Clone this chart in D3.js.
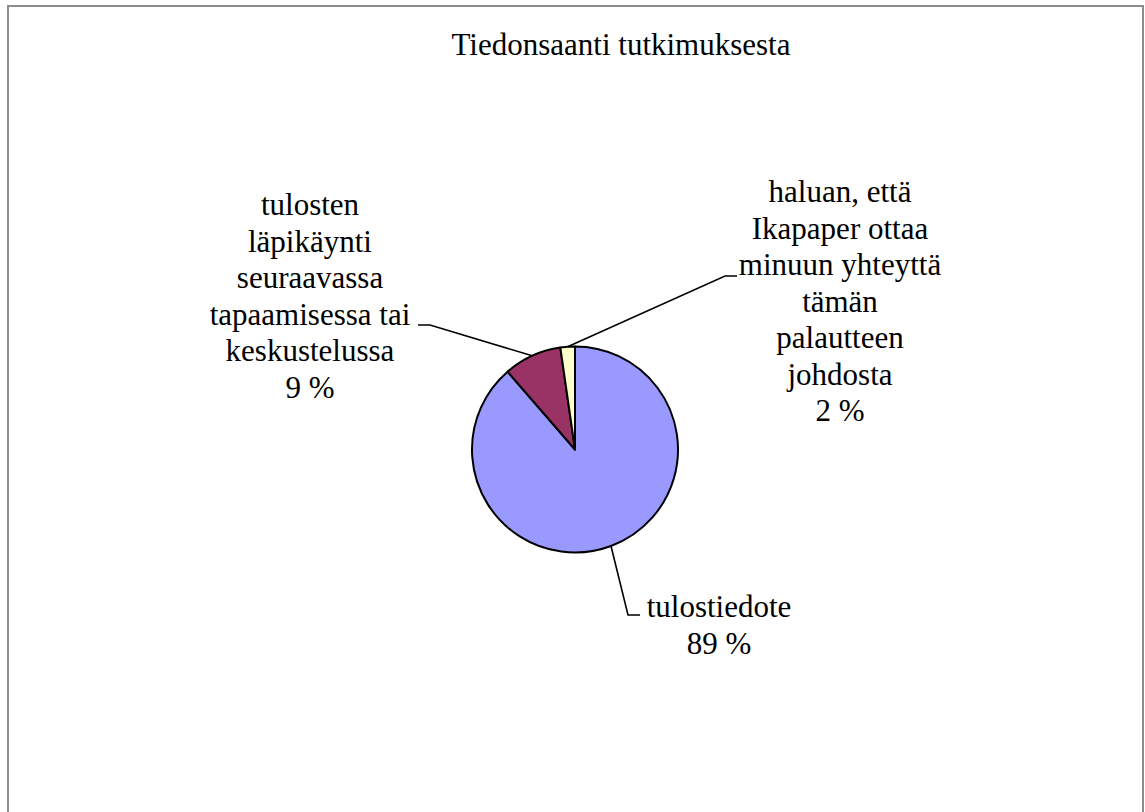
<!DOCTYPE html>
<html>
<head>
<meta charset="utf-8">
<script src="https://cdn.jsdelivr.net/npm/d3@7"></script>
<style>
  body { margin: 0; background: #fff; }
  svg { display: block; }
</style>
</head>
<body>
<svg id="chart" width="1145" height="812"></svg>
<script>
// chart data
var title = 'Tiedonsaanti tutkimuksesta';
var categories = ['tulostiedote',
    'tulosten läpikäynti seuraavassa tapaamisessa tai keskustelussa',
    'haluan, että Ikapaper ottaa minuun yhteyttä tämän palautteen johdosta'];
var counts = [39, 4, 1];
var labelLines = [
    ['tulostiedote'],
    ['tulosten', 'läpikäynti', 'seuraavassa', 'tapaamisessa tai', 'keskustelussa'],
    ['haluan, että', 'Ikapaper ottaa', 'minuun yhteyttä', 'tämän', 'palautteen', 'johdosta']
];
var colors = ['#9999FF', '#993366', '#FFFFCC'];

// where each label block sits (center x, first baseline) and where its leader meets it
var labelPos = [
    {x: 719, y: 617, lead: [[628, 615], [640, 615]]},
    {x: 310, y: 215, lead: [[430, 325], [418, 325]]},
    {x: 840, y: 202, lead: [[725, 276], [737, 276]]}
];

var cx = 575, cy = 449.5,
    radius = 103,
    fontSize = 31,
    lineHeight = 36.5,
    serif = "'Times New Roman', Tinos, 'Liberation Serif', 'Noto Serif', 'DejaVu Serif', Times, serif";

var svg = d3.select('#chart');

// outer frame, bottom runs past the picture
svg.append('rect')
    .attr('x', 8).attr('y', 6)
    .attr('width', 1135).attr('height', 830)
    .style('fill', 'none')
    .style('stroke', '#8c8c8c')
    .style('stroke-width', 2);

svg.append('text')
    .attr('x', 621).attr('y', 55)
    .attr('text-anchor', 'middle')
    .style('font-family', serif)
    .style('font-size', fontSize + 'px')
    .text(title);

var total = d3.sum(counts);
var pie = d3.pie().sort(null).value(function (d) { return d; });
var arcs = pie(counts);

var arc = d3.arc().innerRadius(0).outerRadius(radius);
var edge = d3.arc().innerRadius(radius).outerRadius(radius);

var g = svg.append('g').attr('transform', 'translate(' + cx + ',' + cy + ')');

g.selectAll('.slice')
    .data(arcs)
    .enter().append('path')
    .attr('class', 'slice')
    .attr('d', arc)
    .style('fill', function (d, i) { return colors[i] })
    .style('stroke', '#000')
    .style('stroke-width', 2)
    .style('stroke-linejoin', 'round');

// leader lines from slice edge to label
var line = d3.line();
svg.selectAll('.leader')
    .data(arcs)
    .enter().append('path')
    .attr('class', 'leader')
    .attr('d', function (d, i) {
        var c = edge.centroid(d);
        var pts = [[cx + c[0], cy + c[1]]].concat(labelPos[i].lead);
        return line(pts);
    })
    .style('fill', 'none')
    .style('stroke', '#000')
    .style('stroke-width', 1.6);

// labels with percent as last line
var labels = svg.selectAll('.label')
    .data(arcs)
    .enter().append('text')
    .attr('class', 'label')
    .attr('text-anchor', 'middle')
    .style('font-family', serif)
    .style('font-size', fontSize + 'px');

labels.each(function (d, i) {
    var lines = labelLines[i].concat([Math.round(d.value / total * 100) + ' %']);
    var t = d3.select(this);
    lines.forEach(function (s, k) {
        t.append('tspan')
            .attr('x', labelPos[i].x)
            .attr('y', labelPos[i].y + k * lineHeight)
            .text(s);
    });
});
</script>
</body>
</html>
